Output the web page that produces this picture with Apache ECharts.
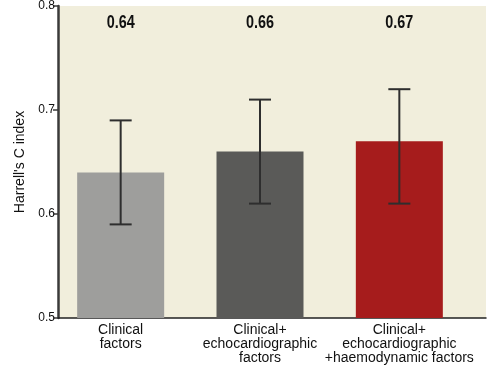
<!DOCTYPE html>
<html><head><meta charset="utf-8">
<script src="https://cdn.jsdelivr.net/npm/echarts@6/dist/echarts.min.js"></script>
<style>html,body{margin:0;padding:0;background:#fff}#c{width:502px;height:366px}</style>
</head><body><div id="c"></div>
<script>
var categories = ['Clinical\nfactors', 'Clinical+\nechocardiographic\nfactors', 'Clinical+\nechocardiographic\n+haemodynamic factors'];
var values = [0.64, 0.66, 0.67];
var lowerCI = [0.59, 0.61, 0.61];
var upperCI = [0.69, 0.71, 0.72];
var valueLabels = ['0.64', '0.66', '0.67'];
var yTicks = [0.5, 0.6, 0.7, 0.8];
var barColors = ['#9e9e9c', '#5a5a58', '#a61c1c'];

var chart = echarts.init(document.getElementById('c'));
var errData = values.map(function (v, i) { return [i, lowerCI[i], upperCI[i], valueLabels[i]]; });
chart.setOption({
  animation: false,
  grid: [
    {left: 58, right: 16, top: 6, bottom: 48, show: true, backgroundColor: '#f1eedc', borderWidth: 0},
    {left: 51, right: 33, top: 6, bottom: 48}
  ],
  xAxis: [
    {gridIndex: 0, type: 'category', data: categories, axisLabel: {show: false}, axisTick: {show: false},
     axisLine: {lineStyle: {color: '#222', width: 1.5}}},
    {gridIndex: 1, type: 'category', data: categories, axisTick: {show: false}, axisLine: {show: false},
     axisLabel: {interval: 0, margin: 5, fontFamily: 'Liberation Sans, Arial, sans-serif', fontSize: 14, lineHeight: 14, color: '#111', align: 'center'}}
  ],
  yAxis: [
    {gridIndex: 0, type: 'value', min: 0.5, max: 0.8, interval: 0.1, splitLine: {show: false},
     axisLine: {show: true, lineStyle: {color: '#3a3a3a', width: 2.5}},
     axisTick: {show: true, length: 5, lineStyle: {color: '#3a3a3a', width: 1.5}},
     axisLabel: {margin: 3, fontFamily: 'Liberation Sans, Arial, sans-serif', fontSize: 12, color: '#111',
       formatter: function (v) { return v.toFixed(1); }},
     name: "Harrell's C index", nameLocation: 'middle', nameGap: 26,
     nameTextStyle: {fontFamily: 'Liberation Sans, Arial, sans-serif', fontSize: 14, color: '#111'}},
    {gridIndex: 1, type: 'value', min: 0.5, max: 0.8, interval: 0.1, show: false}
  ],
  series: [
    {type: 'bar', xAxisIndex: 1, yAxisIndex: 1, barWidth: 87,
     data: values.map(function (v, i) { return {value: v, itemStyle: {color: barColors[i]}}; })},
    {type: 'custom', xAxisIndex: 1, yAxisIndex: 1, data: errData, z: 10,
     renderItem: function (params, api) {
       var x = api.value(0);
       var lo = api.coord([x, api.value(1)]);
       var hi = api.coord([x, api.value(2)]);
       var cw = 11;
       var st = {stroke: '#2e2e2e', lineWidth: 2};
       var top = params.coordSys.y;
       return {type: 'group', children: [
         {type: 'line', shape: {x1: lo[0], y1: lo[1], x2: hi[0], y2: hi[1]}, style: st},
         {type: 'line', shape: {x1: lo[0] - cw, y1: lo[1], x2: lo[0] + cw, y2: lo[1]}, style: st},
         {type: 'line', shape: {x1: hi[0] - cw, y1: hi[1], x2: hi[0] + cw, y2: hi[1]}, style: st},
         {type: 'text', x: lo[0], y: top + 17.5, scaleX: 0.8,
          style: {text: api.value(3), x: 0, y: 0, textAlign: 'center', textVerticalAlign: 'middle',
           font: 'bold 18px "Liberation Sans", Arial, sans-serif', fill: '#111'}}
       ]};
     }}
  ]
});
</script></body></html>
